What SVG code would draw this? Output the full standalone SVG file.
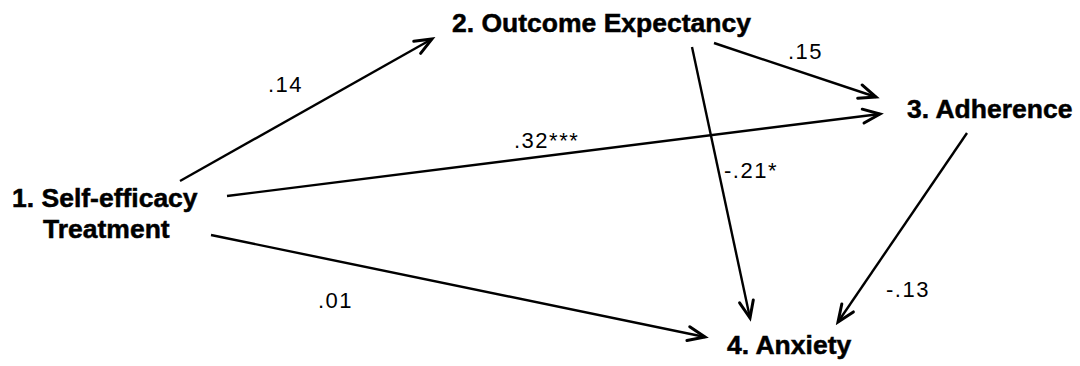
<svg xmlns="http://www.w3.org/2000/svg" width="1080" height="366" viewBox="0 0 1080 366">
<style>
.node{font-family:"Liberation Sans",Arial,sans-serif;font-weight:bold;font-size:26.5px;fill:#000;stroke:#000;stroke-width:0.5}
.lbl{font-family:"Liberation Sans",Arial,sans-serif;font-size:22px;letter-spacing:1.5px;fill:#000}
.edge{stroke:#000;stroke-width:2.4;fill:none;marker-end:url(#ah)}
</style>
<defs>
<marker id="ah" markerUnits="userSpaceOnUse" viewBox="-20 -10 24 20" refX="0" refY="0" markerWidth="24" markerHeight="20" orient="auto">
<path d="M-17,-7 L0,0 L-17,7" stroke="#000" stroke-width="3" fill="none" stroke-linecap="round" stroke-linejoin="miter"/>
</marker>
</defs>
<rect width="1080" height="366" fill="#fff"/>
<g id="connectors">
<line class="edge" x1="180" y1="181" x2="432" y2="39"/>
<line class="edge" x1="227" y1="196" x2="880" y2="114"/>
<line class="edge" x1="211" y1="235" x2="705" y2="337"/>
<line class="edge" x1="714" y1="43" x2="876" y2="97"/>
<line class="edge" x1="692" y1="47" x2="750" y2="318"/>
<line class="edge" x1="967" y1="133" x2="838" y2="322"/>
</g>
<g id="edge-labels">
<text class="lbl" x="268" y="92">.14</text>
<text class="lbl" x="514" y="148">.32***</text>
<text class="lbl" x="318" y="308">.01</text>
<text class="lbl" x="788" y="59">.15</text>
<text class="lbl" x="724" y="178">-.21*</text>
<text class="lbl" x="886" y="297">-.13</text>
</g>
<g id="n1">
<text class="node" x="12" y="207">1. Self-efficacy</text>
<text class="node" x="43" y="238">Treatment</text>
</g>
<g id="n2"><text class="node" x="452" y="32">2. Outcome Expectancy</text></g>
<g id="n3"><text class="node" x="907" y="118">3. Adherence</text></g>
<g id="n4"><text class="node" x="727" y="354">4. Anxiety</text></g>
</svg>
